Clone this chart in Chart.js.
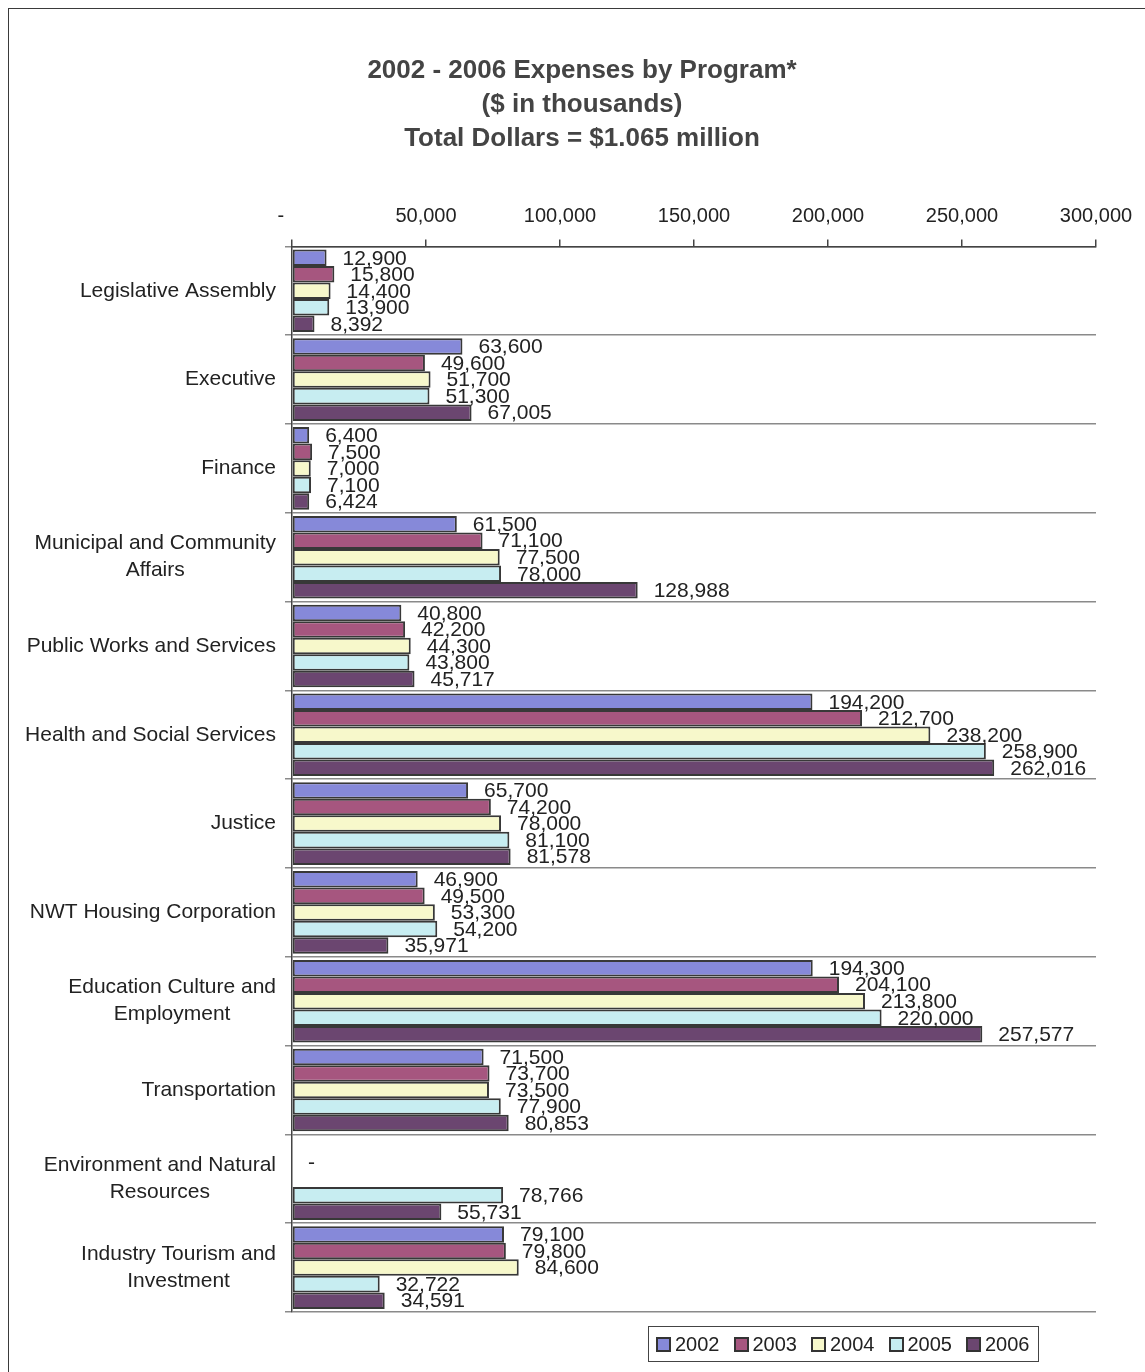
<!DOCTYPE html>
<html>
<head>
<meta charset="utf-8">
<title>2002 - 2006 Expenses by Program</title>
<script src="https://cdn.jsdelivr.net/npm/chart.js@4.4.1/dist/chart.umd.min.js"></script>
<style>
  html, body { margin: 0; padding: 0; background: #fff; overflow: hidden; }
  #wrap { position: relative; width: 1145px; height: 1372px; overflow: hidden; }
  #frame { position: absolute; left: 8px; top: 8px; width: 1200px; height: 1400px; border: 1.5px solid #3a3a3a; }
  #salesChart { position: absolute; left: 0; top: 0; }
  #legend {
    position: absolute; left: 648px; top: 1326px; width: 382px; height: 34px;
    border: 1.5px solid #444; display: flex; align-items: center; padding-left: 7px;
    font: 20px "Liberation Sans", Arial, sans-serif; color: #222;
  }
  #legend .item { display: flex; align-items: center; margin-right: 14px; }
  #legend .box { width: 11px; height: 11px; border: 2px solid #333; margin-right: 4px; }
</style>
</head>
<body>
<div id="wrap">
  <div id="frame"></div>
  <canvas id="salesChart" width="1145" height="1372"></canvas>
  <div id="legend"></div>
</div>
<script>
const programs = [
  "Legislative Assembly",
  "Executive",
  "Finance",
  ["Municipal and Community", "Affairs"],
  "Public Works and Services",
  "Health and Social Services",
  "Justice",
  "NWT Housing Corporation",
  ["Education Culture and", "Employment"],
  "Transportation",
  ["Environment and Natural", "Resources"],
  ["Industry Tourism and", "Investment"]
];

const years = ["2002", "2003", "2004", "2005", "2006"];

// expenses in $ thousands, one array per year (null = no bar)
const exp2002 = [12900, 63600, 6400, 61500, 40800, 194200, 65700, 46900, 194300, 71500, null, 79100];
const exp2003 = [15800, 49600, 7500, 71100, 42200, 212700, 74200, 49500, 204100, 73700, 0, 79800];
const exp2004 = [14400, 51700, 7000, 77500, 44300, 238200, 78000, 53300, 213800, 73500, null, 84600];
const exp2005 = [13900, 51300, 7100, 78000, 43800, 258900, 81100, 54200, 220000, 77900, 78766, 32722];
const exp2006 = [8392, 67005, 6424, 128988, 45717, 262016, 81578, 35971, 257577, 80853, 55731, 34591];

const axisMax = 300000;
const axisStep = 50000;

const yearColors = ["#8689d9", "#a6567f", "#f7f8cb", "#c7edf1", "#6b4670"];

const FONT = "'Liberation Sans', Arial, sans-serif";
Chart.defaults.font.family = FONT;
Chart.defaults.color = "#222";

// value labels to the right of each bar
const valueLabels = {
  id: "valueLabels",
  afterDatasetsDraw(chart) {
    const ctx = chart.ctx;
    ctx.save();
    ctx.font = "21px " + FONT;
    ctx.fillStyle = "#222";
    ctx.textAlign = "left";
    ctx.textBaseline = "middle";
    chart.data.datasets.forEach((ds, di) => {
      chart.getDatasetMeta(di).data.forEach((bar, i) => {
        const v = ds.data[i];
        if (v === null || v === undefined) return;
        const text = v === 0 ? "-" : v.toLocaleString("en-US");
        ctx.fillText(text, bar.x + 16, bar.y + 1);
      });
    });
    ctx.restore();
  }
};

// category names: block right-aligned, lines centred within the block
const categoryLabels = {
  id: "categoryLabels",
  afterDraw(chart) {
    const ctx = chart.ctx;
    const y = chart.scales.y;
    ctx.save();
    ctx.font = "21px " + FONT;
    ctx.fillStyle = "#222";
    ctx.textAlign = "center";
    ctx.textBaseline = "middle";
    programs.forEach((label, i) => {
      const lines = Array.isArray(label) ? label : [label];
      const w = Math.max(...lines.map(l => ctx.measureText(l).width));
      const cx = y.right - 16 - w / 2;
      const cy = y.getPixelForValue(i);
      lines.forEach((l, j) => {
        ctx.fillText(l, cx, cy + (j - (lines.length - 1) / 2) * 27);
      });
    });
    ctx.restore();
  }
};

const series = [exp2002, exp2003, exp2004, exp2005, exp2006];

const ctx = document.getElementById("salesChart").getContext("2d");

const chart = new Chart(ctx, {
  type: "bar",
  data: {
    labels: programs,
    datasets: years.map((yr, k) => ({
      label: yr,
      data: series[k],
      backgroundColor: yearColors[k],
      borderColor: "#383838",
      borderWidth: 2,
      borderSkipped: false,
      categoryPercentage: 0.93,
      barPercentage: 1.0
    }))
  },
  options: {
    indexAxis: "y",
    responsive: false,
    animation: false,
    layout: { padding: { left: 68, right: 49, top: 0, bottom: 60 } },
    plugins: {
      legend: { display: false },
      tooltip: { enabled: false },
      title: {
        display: true,
        text: [
          "2002 - 2006 Expenses by Program*",
          "($ in thousands)",
          "Total Dollars = $1.065 million"
        ],
        color: "#444",
        font: { size: 26, weight: "bold", lineHeight: 1.3 },
        padding: { top: 54, bottom: 0 }
      }
    },
    scales: {
      x: {
        position: "top",
        min: 0,
        max: axisMax,
        afterFit(scale) { scale.height = 91; },
        ticks: {
          stepSize: axisStep,
          padding: 11,
          maxRotation: 0,
          font: { size: 20 },
          color: "#222",
          callback: v => (v === 0 ? "-    " : v.toLocaleString("en-US"))
        },
        grid: { drawOnChartArea: false, drawTicks: true, tickLength: 7, color: "#444", lineWidth: 1.5 },
        border: { display: true, color: "#444", width: 1.5 }
      },
      y: {
        afterFit(scale) { scale.width = 292 - 68; },
        ticks: { display: false },
        grid: { offset: true, color: "#8a8a8a", lineWidth: 1.5, tickLength: 7, drawTicks: true },
        border: { display: true, color: "#444", width: 1.5 }
      }
    }
  },
  plugins: [valueLabels, categoryLabels]
});

// legend box under the plot
const legend = document.getElementById("legend");
chart.data.datasets.forEach(ds => {
  const item = document.createElement("div");
  item.className = "item";
  const box = document.createElement("span");
  box.className = "box";
  box.style.background = ds.backgroundColor;
  item.appendChild(box);
  item.appendChild(document.createTextNode(ds.label));
  legend.appendChild(item);
});
</script>
</body>
</html>
